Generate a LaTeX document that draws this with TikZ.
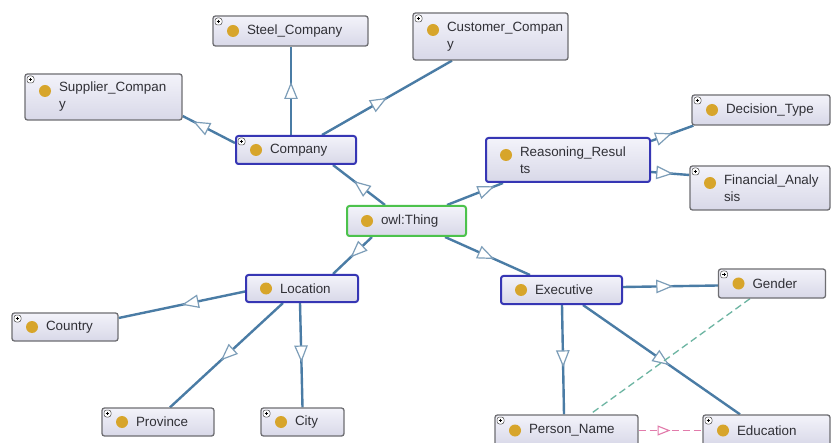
\documentclass[tikz,border=0pt]{standalone}
\usepackage{fontspec}
\setmainfont{Liberation Sans}
\usetikzlibrary{arrows.meta,decorations.markings}
\hyphenpenalty=10000
\exhyphenpenalty=10000
\definecolor{boxtop}{HTML}{F3F3FA}
\definecolor{boxbot}{HTML}{D8D8E8}
\definecolor{leafline}{HTML}{6E6E72}
\definecolor{mainblue}{HTML}{3636B4}
\definecolor{rootgreen}{HTML}{4CC24C}
\definecolor{dotc}{HTML}{D7A52B}
\definecolor{edgec}{HTML}{4A7CA5}
\definecolor{tipc}{HTML}{7C9DB8}
\definecolor{txt}{HTML}{303036}
\definecolor{dashgreen}{HTML}{6CB5A2}
\definecolor{dashpink}{HTML}{E27BAB}
\pgfdeclarelayer{bg}
\pgfsetlayers{bg,main}
\tikzset{
  box/.style={rectangle, rounded corners=2.5pt, top color=boxtop, bottom color=boxbot,
    inner xsep=34pt, inner ysep=0pt, align=left, text=txt,
    font=\fontsize{13.4}{17}\selectfont},
  leaf/.style={box, draw=leafline, line width=1.3pt},
  mainbox/.style={box, draw=mainblue, line width=2pt},
  rootbox/.style={box, draw=rootgreen, line width=2pt},
  dotone/.style={path picture={
      \fill[dotc] ([xshift=20pt]path picture bounding box.west) circle (6pt);}},
  dotoneplus/.style={path picture={
      \fill[dotc] ([xshift=20pt]path picture bounding box.west) circle (6pt);
      \draw[black!70, fill=white, line width=0.5pt]
        ([shift={(2pt,-2pt)}]path picture bounding box.north west) rectangle ++(7pt,-7pt);
      \draw[black, line width=0.6pt]
        ([shift={(3.6pt,-5.5pt)}]path picture bounding box.north west) -- ++(3.8pt,0pt)
        ([shift={(5.5pt,-3.6pt)}]path picture bounding box.north west) -- ++(0pt,-3.8pt);}},
  dottwo/.style={path picture={
      \fill[dotc] ([shift={(20pt,-17pt)}]path picture bounding box.north west) circle (6pt);}},
  dottwoplus/.style={path picture={
      \fill[dotc] ([shift={(20pt,-17pt)}]path picture bounding box.north west) circle (6pt);
      \draw[black!70, fill=white, line width=0.5pt]
        ([shift={(2pt,-2pt)}]path picture bounding box.north west) rectangle ++(7pt,-7pt);
      \draw[black, line width=0.6pt]
        ([shift={(3.6pt,-5.5pt)}]path picture bounding box.north west) -- ++(3.8pt,0pt)
        ([shift={(5.5pt,-3.6pt)}]path picture bounding box.north west) -- ++(0pt,-3.8pt);}},
  edge/.style={draw=edgec, line width=2.4pt},
  isa/.style={edge, postaction={decorate}, decoration={markings,
      mark=at position #1 with {\arrow{Triangle[open, fill=white, length=17pt, width=13.5pt, line width=1.2pt, color=tipc]}}}},
  dgreen/.style={draw=dashgreen, line width=1.3pt, dash pattern=on 7pt off 4pt},
  dpink/.style={draw=dashpink, line width=1.3pt, dash pattern=on 7pt off 4pt,
    postaction={decorate}, decoration={markings,
      mark=at position #1 with {\arrow{Triangle[open, fill=white, length=13pt, width=10pt, line width=1.1pt, color=dashpink]}}}},
}
\begin{document}
\begin{tikzpicture}[x=1pt, y=-1pt]
\useasboundingbox (0,0) rectangle (834,443);

% class boxes
\node[leaf, dotoneplus, minimum width=155pt, minimum height=30pt, text width=87pt] (steel) at (290.5,31) {Steel\_Company};
\node[leaf, dottwoplus, minimum width=155pt, minimum height=47pt, text width=87pt] (customer) at (490.5,36.5) {Customer\_Compan\\y};
\node[leaf, dottwoplus, minimum width=157pt, minimum height=46pt, text width=89pt] (supplier) at (103.5,97) {Supplier\_Compan\\y};
\node[mainbox, dotoneplus, minimum width=120pt, minimum height=28pt, text width=52pt] (company) at (296,150) {Company};
\node[mainbox, dottwo, minimum width=164pt, minimum height=44pt, text width=96pt] (reasoning) at (568,160) {Reasoning\_Resul\\ts};
\node[leaf, dotoneplus, minimum width=138pt, minimum height=30pt, text width=70pt] (decision) at (761,110) {Decision\_Type};
\node[leaf, dottwoplus, minimum width=140pt, minimum height=44pt, text width=72pt] (financial) at (760,188) {Financial\_Analy\\sis};
\node[rootbox, dotone, minimum width=119pt, minimum height=30pt, text width=51pt] (thing) at (406.5,221) {owl:Thing};
\node[mainbox, dotone, minimum width=112pt, minimum height=27pt, text width=44pt] (location) at (302,288.5) {Location};
\node[mainbox, dotone, minimum width=121pt, minimum height=28pt, text width=53pt] (executive) at (561.5,290) {Executive};
\node[leaf, dotoneplus, minimum width=107pt, minimum height=29pt, text width=39pt] (gender) at (772,283.5) {Gender};
\node[leaf, dotoneplus, minimum width=106pt, minimum height=28pt, text width=38pt] (country) at (65,327) {Country};
\node[leaf, dotoneplus, minimum width=112pt, minimum height=28pt, text width=44pt] (province) at (158,422) {Province};
\node[leaf, dotoneplus, minimum width=83pt, minimum height=28pt, text width=15pt] (city) at (302.5,422) {City};
\node[leaf, dotoneplus, minimum width=143pt, minimum height=31pt, text width=75pt] (person) at (566.5,430.5) {Person\_Name};
\node[leaf, dotoneplus, minimum width=127pt, minimum height=31pt, text width=59pt] (education) at (766.5,430.5) {Education};

% white ground and subclass links, drawn under the boxes
\begin{pgfonlayer}{bg}
\fill[white] (0,0) rectangle (834,443);

\draw[isa=0.6] ([xshift=-21.5pt]thing.north) -- ([xshift=37pt]company.south);
\draw[isa=0.85] ([xshift=40.5pt]thing.north) -- ([xshift=-65pt]reasoning.south);
\draw[isa=0.55] ([xshift=-34.5pt]thing.south) -- ([xshift=31pt]location.north);
\draw[isa=0.58] ([xshift=38.5pt]thing.south) -- ([xshift=-31.5pt]executive.north);

\draw[isa=0.6] ([xshift=-5pt]company.north) -- ([xshift=0.5pt]steel.south);
\draw[isa=0.5] ([xshift=26pt]company.north) -- ([xshift=-38.5pt]customer.south);
\draw[isa=0.8] ([yshift=7pt]company.west) -- ([yshift=-19pt]supplier.east);

\draw[isa=0.5] ([yshift=19pt]reasoning.east) -- ([xshift=2pt]decision.south west);
\draw[isa=0.58] ([yshift=-12pt]reasoning.east) -- ([yshift=13pt]financial.west);

\draw[isa=0.5] ([yshift=-3pt]location.west) -- ([yshift=9pt]country.east);
\draw[isa=0.55] ([xshift=-19pt]location.south) -- ([xshift=12pt]province.north);
\draw[isa=0.57] ([xshift=-2pt]location.south) -- (city.north);

\draw[isa=0.53] ([yshift=3pt]executive.east) -- ([yshift=-2pt]gender.west);
\draw[isa=0.57] ([xshift=0.5pt]executive.south) -- ([xshift=-2.5pt]person.north);
\draw[isa=0.55] ([xshift=21.5pt]executive.south) -- ([xshift=-26.5pt]education.north);

\draw[dgreen] ([xshift=-22pt]gender.south) -- ([xshift=23.5pt]person.north);
\draw[dpink=0.5] (person.east) -- (education.west);
\end{pgfonlayer}
\end{tikzpicture}
\end{document}
